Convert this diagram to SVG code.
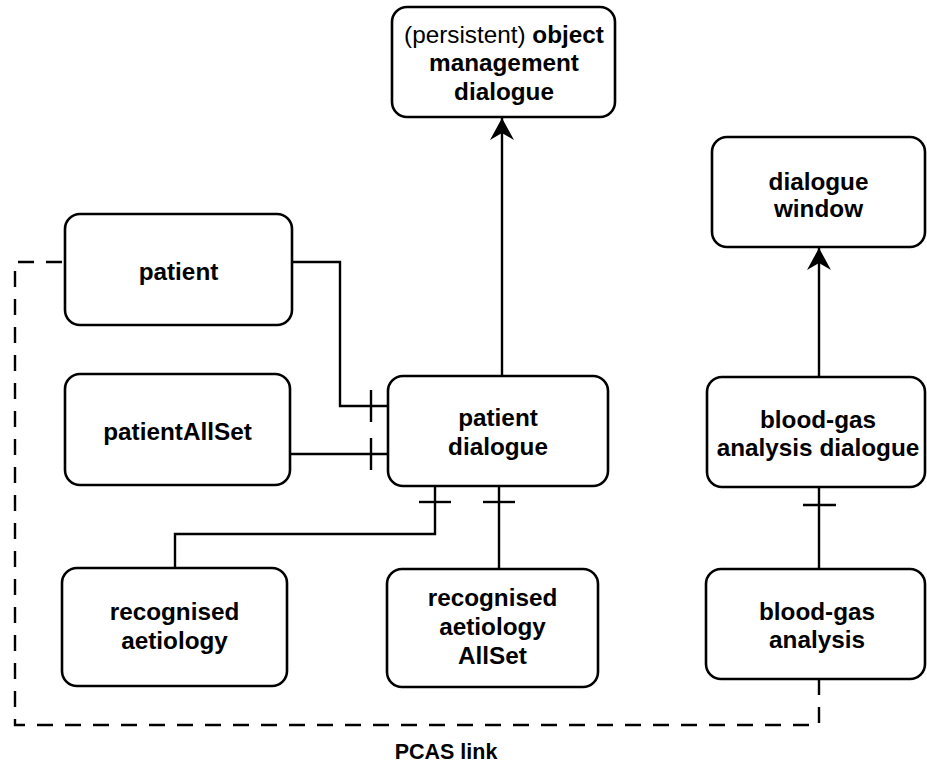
<svg xmlns="http://www.w3.org/2000/svg" width="927" height="764" viewBox="0 0 927 764">
<style>
.box{fill:#fff;stroke:#000;stroke-width:2.6}
.t{font-family:"Liberation Sans",Arial,sans-serif;font-weight:bold;font-size:24.3px;text-anchor:middle;fill:#000}
.reg{font-weight:normal}
.c{fill:none;stroke:#000;stroke-width:2.4}
.d{fill:none;stroke:#000;stroke-width:2.4;stroke-dasharray:16 12}
.lbl{font-family:"Liberation Sans",Arial,sans-serif;font-weight:bold;font-size:21.5px;text-anchor:middle;fill:#000}
</style>
<defs>
<marker id="arr" viewBox="0 0 22 24" refX="22" refY="12" markerWidth="22" markerHeight="24" markerUnits="userSpaceOnUse" orient="auto">
<path d="M0,0 L22,12 L0,24 L7,12 z" fill="#000"/>
</marker>
</defs>
<rect width="927" height="764" fill="#fff"/>
<g id="connectors">
<path class="c" d="M292 262 H340 V406 H388"/>
<path class="c" d="M371 390 V422"/>
<path class="c" d="M290 454 H388"/>
<path class="c" d="M371 438 V470"/>
<path class="c" d="M435 486 V534 H175 V568"/>
<path class="c" d="M419 502 H451"/>
<path class="c" d="M499 486 V569"/>
<path class="c" d="M483 502 H515"/>
<path class="c" d="M502 375 V118" marker-end="url(#arr)"/>
<path class="c" d="M819 377 V248" marker-end="url(#arr)"/>
<path class="c" d="M819 569 V487"/>
<path class="c" d="M803 505 H836"/>
<path class="d" d="M819 679 V725 H15 V262 H65"/>
<text class="lbl" x="446" y="759">PCAS link</text>
</g>
<g id="objmgmt">
<rect class="box" x="392" y="7" width="223" height="110" rx="15"/>
<text class="t" x="504" y="43"><tspan class="reg">(persistent)</tspan> object</text>
<text class="t" x="504" y="71">management</text>
<text class="t" x="504" y="100">dialogue</text>
</g>
<g id="dialoguewindow">
<rect class="box" x="712" y="137" width="213" height="110" rx="15"/>
<text class="t" x="818.5" y="190">dialogue</text>
<text class="t" x="818.5" y="217">window</text>
</g>
<g id="patient">
<rect class="box" x="65" y="214" width="227" height="111" rx="15"/>
<text class="t" x="178.5" y="280">patient</text>
</g>
<g id="patientAllSet">
<rect class="box" x="65" y="374" width="225" height="111" rx="15"/>
<text class="t" x="177.5" y="440">patientAllSet</text>
</g>
<g id="patientdialogue">
<rect class="box" x="388" y="376" width="220" height="110" rx="15"/>
<text class="t" x="498" y="426">patient</text>
<text class="t" x="498" y="455">dialogue</text>
</g>
<g id="bgdialogue">
<rect class="box" x="707" y="377" width="218" height="110" rx="15"/>
<text class="t" x="818" y="428">blood-gas</text>
<text class="t" x="818" y="456">analysis dialogue</text>
</g>
<g id="recaet">
<rect class="box" x="62" y="568" width="225" height="118" rx="15"/>
<text class="t" x="174.5" y="620">recognised</text>
<text class="t" x="174.5" y="649">aetiology</text>
</g>
<g id="recaetallset">
<rect class="box" x="387" y="569" width="211" height="118" rx="15"/>
<text class="t" x="492.5" y="606">recognised</text>
<text class="t" x="492.5" y="635">aetiology</text>
<text class="t" x="492.5" y="664">AllSet</text>
</g>
<g id="bganalysis">
<rect class="box" x="706" y="569" width="219" height="110" rx="15"/>
<text class="t" x="817" y="620">blood-gas</text>
<text class="t" x="817" y="648">analysis</text>
</g>
</svg>
